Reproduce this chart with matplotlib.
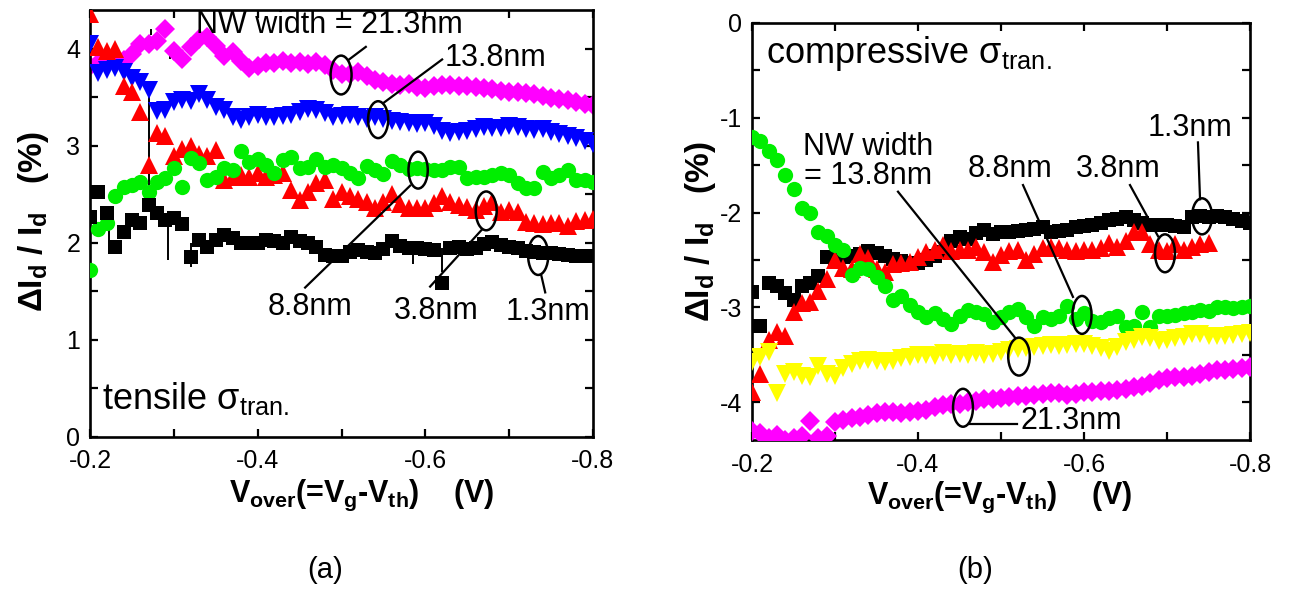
import numpy as np
import matplotlib
matplotlib.use("Agg")
import matplotlib.pyplot as plt
from matplotlib.patches import Ellipse
from matplotlib.ticker import MultipleLocator, FuncFormatter

plt.rcParams['font.family'] = ['Liberation Sans', 'DejaVu Sans']
plt.rcParams['mathtext.fontset'] = 'custom'
plt.rcParams['mathtext.rm'] = 'Liberation Sans:bold'
plt.rcParams['mathtext.it'] = 'Liberation Sans:bold'
plt.rcParams['mathtext.bf'] = 'Liberation Sans:bold'
plt.rcParams['mathtext.sf'] = 'Liberation Sans'

# gate overdrive grid (V)
v_over = np.round(np.arange(-0.20, -0.805, -0.01), 2)

# ---- (a) tensile stress, dId/Id (%) ----
tens_213 = [3.82, 3.85, 3.88, 3.90, 3.88, 3.95, 4.05, 4.05, 4.08, 4.20,
            3.98, 3.90, 4.02, 4.10, 4.12, 4.03, 3.93, 3.97, 3.87, 3.80,
            3.82, 3.85, 3.85, 3.87, 3.85, 3.86, 3.84, 3.86, 3.83, 3.78,
            3.74, 3.74, 3.76, 3.72, 3.68, 3.66, 3.64, 3.63, 3.64, 3.61,
            3.60, 3.62, 3.63, 3.63, 3.62, 3.62, 3.61, 3.60, 3.59, 3.57,
            3.56, 3.55, 3.54, 3.53, 3.51, 3.49, 3.48, 3.47, 3.45, 3.43, 3.42]
tens_138 = [4.05, 3.75, 3.78, 3.80, 3.76, 3.70, 3.66, 3.58, 3.36, 3.37,
            3.45, 3.47, 3.46, 3.53, 3.47, 3.40, 3.37, 3.30, 3.27, 3.30,
            3.32, 3.30, 3.30, 3.31, 3.32, 3.35, 3.38, 3.37, 3.34, 3.30,
            3.31, 3.32, 3.30, 3.28, 3.30, 3.28, 3.26, 3.25, 3.24, 3.23,
            3.24, 3.20, 3.15, 3.13, 3.14, 3.15, 3.17, 3.19, 3.18, 3.18,
            3.20, 3.19, 3.17, 3.16, 3.17, 3.14, 3.12, 3.10, 3.08, 3.05, 3.02]
tens_38 = [4.36, 4.02, 3.98, 4.00, 3.62, 3.56, 3.35, 2.80, 3.13, 3.10,
           2.90, 2.97, 3.00, 2.92, 2.90, 2.96, 2.65, 2.68, 2.70, 2.68,
           2.72, 2.68, 2.70, 2.72, 2.55, 2.44, 2.52, 2.62, 2.65, 2.45,
           2.52, 2.48, 2.45, 2.42, 2.36, 2.42, 2.50, 2.40, 2.36, 2.36,
           2.36, 2.41, 2.48, 2.42, 2.39, 2.37, 2.34, 2.38, 2.42, 2.32,
           2.34, 2.32, 2.22, 2.20, 2.19, 2.21, 2.20, 2.17, 2.23, 2.24, 2.25]
tens_88 = [1.72, 2.14, 2.20, 2.48, 2.58, 2.60, 2.63, 2.52, 2.63, 2.67,
           2.77, 2.58, 2.88, 2.82, 2.65, 2.68, 2.77, 2.75, 2.95, 2.83,
           2.86, 2.80, 2.72, 2.85, 2.89, 2.77, 2.78, 2.86, 2.78, 2.80,
           2.77, 2.72, 2.67, 2.79, 2.75, 2.71, 2.84, 2.80, 2.76, 2.77,
           2.76, 2.75, 2.75, 2.78, 2.78, 2.67, 2.68, 2.68, 2.70, 2.72,
           2.70, 2.62, 2.57, 2.57, 2.73, 2.67, 2.70, 2.75, 2.65, 2.65, 2.63]
tens_13 = [2.27, 2.52, 2.31, 1.96, 2.11, 2.24, 2.20, 2.39, 2.31, 2.24,
           2.26, 2.19, 1.85, 2.03, 1.96, 2.03, 2.08, 2.05, 2.00, 2.00,
           2.00, 2.03, 2.02, 2.00, 2.06, 2.02, 2.00, 1.96, 1.88, 1.86,
           1.87, 1.91, 1.93, 1.91, 1.90, 1.94, 2.02, 1.97, 1.95, 1.95,
           1.94, 1.93, 1.59, 1.95, 1.96, 1.94, 1.95, 1.99, 2.01, 1.98,
           1.96, 1.95, 1.92, 1.91, 1.90, 1.90, 1.89, 1.88, 1.87, 1.86, 1.86]
# thin glitch spikes of the raw 1.3nm trace: x, top, bottom
spike_x = [-0.270, -0.293, -0.320, -0.223, -0.585, -0.620, -0.273, -0.295, -0.309]
spike_top = [3.65, 2.27, 2.00, 2.31, 1.98, 1.95, 4.20, 3.96, 3.99]
spike_bot = [2.41, 1.82, 1.75, 2.03, 1.78, 1.70, 4.14, 3.90, 3.92]

# ---- (b) compressive stress, dId/Id (%) ----
comp_213 = [-4.30, -4.33, -4.38, -4.35, -4.40, -4.38, -4.36, -4.20, -4.38, -4.36,
            -4.21, -4.19, -4.17, -4.16, -4.14, -4.12, -4.10, -4.10, -4.12, -4.10,
            -4.09, -4.08, -4.05, -4.03, -4.02, -4.02, -4.00, -3.99, -3.97, -3.97,
            -3.96, -3.95, -3.94, -3.94, -3.93, -3.91, -3.90, -3.90, -3.92, -3.91,
            -3.89, -3.89, -3.88, -3.88, -3.87, -3.86, -3.84, -3.83, -3.80, -3.77,
            -3.75, -3.74, -3.73, -3.72, -3.70, -3.68, -3.66, -3.66, -3.65, -3.64, -3.63]
comp_138 = [-3.58, -3.52, -3.47, -3.90, -3.70, -3.68, -3.72, -3.74, -3.62, -3.70,
            -3.72, -3.64, -3.60, -3.57, -3.56, -3.57, -3.58, -3.57, -3.54, -3.52,
            -3.50, -3.50, -3.51, -3.48, -3.50, -3.49, -3.50, -3.48, -3.50, -3.49,
            -3.47, -3.45, -3.44, -3.43, -3.42, -3.41, -3.40, -3.41, -3.40, -3.39,
            -3.39, -3.41, -3.43, -3.46, -3.42, -3.37, -3.35, -3.31, -3.32, -3.36,
            -3.34, -3.32, -3.31, -3.28, -3.28, -3.30, -3.30, -3.30, -3.29, -3.28, -3.27]
comp_88 = [-1.20, -1.24, -1.35, -1.45, -1.60, -1.75, -1.95, -2.00, -2.20, -2.25,
           -2.34, -2.40, -2.66, -2.58, -2.60, -2.68, -2.78, -2.92, -2.88, -2.98,
           -3.05, -3.10, -3.06, -3.12, -3.18, -3.09, -3.03, -3.05, -3.07, -3.16,
           -3.10, -3.05, -3.02, -3.10, -3.20, -3.10, -3.12, -3.09, -2.99, -3.12,
           -3.06, -3.14, -3.15, -3.11, -3.09, -3.21, -3.20, -3.05, -3.21, -3.09,
           -3.09, -3.08, -3.06, -3.05, -3.03, -3.04, -3.00, -3.00, -3.01, -3.00, -2.99]
comp_38 = [-3.89, -3.70, -3.35, -3.26, -3.30, -3.05, -2.95, -2.94, -2.83, -2.70,
           -2.50, -2.58, -2.60, -2.44, -2.48, -2.60, -2.63, -2.54, -2.53, -2.52,
           -2.47, -2.42, -2.39, -2.34, -2.41, -2.40, -2.39, -2.36, -2.42, -2.52,
           -2.45, -2.41, -2.39, -2.50, -2.44, -2.37, -2.36, -2.37, -2.39, -2.41,
           -2.40, -2.39, -2.37, -2.32, -2.36, -2.30, -2.20, -2.20, -2.33, -2.39,
           -2.41, -2.33, -2.40, -2.36, -2.33, -2.32, np.nan, np.nan, np.nan, np.nan, np.nan]
comp_13 = [-2.84, -3.20, -2.74, -2.78, -2.85, -2.92, -2.78, -2.74, -2.67, -2.47,
           -2.50, -2.47, -2.46, -2.44, -2.41, -2.43, -2.46, -2.49, -2.51, -2.53,
           -2.53, -2.50, -2.46, -2.42, -2.30, -2.26, -2.28, -2.22, -2.18, -2.23,
           -2.21, -2.20, -2.19, -2.18, -2.17, -2.15, -2.20, -2.19, -2.18, -2.15,
           -2.14, -2.13, -2.11, -2.08, -2.07, -2.05, -2.08, -2.11, -2.13, -2.13,
           -2.13, -2.14, -2.15, -2.05, -2.04, -2.05, -2.04, -2.05, -2.07, -2.09, -2.11]

MAG, BLUE, RED, GREEN, YEL, BLK = '#ff00ff', '#0000ff', '#ff0000', '#00ee00', '#ffff00', '#000000'

fig = plt.figure(figsize=(12.9, 5.92), dpi=100)
axa = fig.add_axes([90/1290, (592-437)/592, 503/1290, 427/592])
axb = fig.add_axes([752/1290, (592-440)/592, 498/1290, 417/592])

def style(ax):
    ax.set_xlim(-0.2, -0.8)
    ax.xaxis.set_major_locator(MultipleLocator(0.2))
    ax.xaxis.set_minor_locator(MultipleLocator(0.1))
    ax.yaxis.set_major_locator(MultipleLocator(1))
    ax.yaxis.set_minor_locator(MultipleLocator(0.5))
    ax.tick_params(which='both', direction='in', top=True, right=True,
                   width=1.6, length=6, labelsize=18)
    ax.tick_params(axis='x', pad=9)
    ax.tick_params(axis='y', pad=7)
    for s in ax.spines.values():
        s.set_linewidth(1.9)
    ax.xaxis.set_major_formatter(FuncFormatter(lambda v, p: f'{v:.1f}'))
    ax.yaxis.set_major_formatter(FuncFormatter(lambda v, p: f'{v:.0f}'))

kw = dict(linestyle='none', markeredgewidth=0)
MS_D, MS_T, MS_O, MS_S = 10.0, 12.5, 11.0, 9.5

# panel (a)
axa.vlines(spike_x, spike_bot, spike_top, color='black', lw=1.4, zorder=1)
axa.plot(v_over, tens_213, marker='D', ms=MS_D, color=MAG, **kw, zorder=2)
axa.plot(v_over, tens_138, marker='v', ms=MS_T, color=BLUE, **kw, zorder=3)
axa.plot(v_over, tens_38, marker='^', ms=MS_T, color=RED, **kw, zorder=4)
axa.plot(v_over, tens_88, marker='o', ms=MS_O, color=GREEN, **kw, zorder=5)
axa.plot(v_over, tens_13, marker='s', ms=MS_S, color=BLK, **kw, zorder=6)
axa.set_ylim(0, 4.4)
style(axa)

# panel (b)
axb.plot(v_over, comp_13, marker='s', ms=MS_S, color=BLK, **kw, zorder=2)
axb.plot(v_over, comp_38, marker='^', ms=MS_T, color=RED, **kw, zorder=3)
axb.plot(v_over, comp_88, marker='o', ms=MS_O, color=GREEN, **kw, zorder=4)
axb.plot(v_over, comp_138, marker='v', ms=MS_T, color=YEL, **kw, zorder=5)
axb.plot(v_over, comp_213, marker='D', ms=MS_D, color=MAG, **kw, zorder=6)
axb.set_ylim(-4.4, 0)
style(axb)

def ell(ax, x, y, w, h):
    ax.add_patch(Ellipse((x, y), w, h, fill=False, ec='black', lw=1.8, zorder=10, clip_on=False))

def seg(ax, x0, y0, x1, y1):
    ax.plot([x0, x1], [y0, y1], color='black', lw=1.6, zorder=10, clip_on=False)

TS = 22
# annotations (a)
axa.text(-0.3265, 4.25, 'NW width = 21.3nm', fontsize=TS, ha='left', va='center', zorder=11)
ell(axa, -0.4995, 3.73, 0.025, 0.40); seg(axa, -0.509, 3.89, -0.529, 4.02)
axa.text(-0.6236, 3.91, '13.8nm', fontsize=TS, ha='left', va='center', zorder=11)
ell(axa, -0.5437, 3.27, 0.024, 0.38); seg(axa, -0.5497, 3.44, -0.62, 3.89)
ell(axa, -0.5914, 2.75, 0.023, 0.38); seg(axa, -0.5819, 2.59, -0.4566, 1.54)
axa.text(-0.4625, 1.34, '8.8nm', fontsize=TS, ha='center', va='center', zorder=11)
ell(axa, -0.6726, 2.33, 0.025, 0.40); seg(axa, -0.6678, 2.14, -0.6057, 1.55)
axa.text(-0.6129, 1.30, '3.8nm', fontsize=TS, ha='center', va='center', zorder=11)
ell(axa, -0.7346, 1.87, 0.024, 0.40); seg(axa, -0.7382, 1.67, -0.743, 1.49)
axa.text(-0.7465, 1.29, '1.3nm', fontsize=TS, ha='center', va='center', zorder=11)
axa.text(-0.2143, 0.40, r'tensile $\mathsf{\sigma_{tran.}}$', fontsize=26, ha='left', va='center', zorder=11)

# annotations (b)
axb.text(-0.2169, -0.32, r'compressive $\mathsf{\sigma_{tran.}}$', fontsize=26, ha='left', va='center', zorder=11)
axb.text(-0.3398, -1.46, 'NW width\n= 13.8nm', fontsize=TS, ha='center', va='center',
         linespacing=0.95, zorder=11)
seg(axb, -0.3759, -1.78, -0.5169, -3.32); ell(axb, -0.5217, -3.52, 0.026, 0.40)
axb.text(-0.5108, -1.54, '8.8nm', fontsize=TS, ha='center', va='center', zorder=11)
seg(axb, -0.5265, -1.71, -0.5867, -2.89); ell(axb, -0.5976, -3.08, 0.023, 0.40)
axb.text(-0.641, -1.54, '3.8nm', fontsize=TS, ha='center', va='center', zorder=11)
seg(axb, -0.6554, -1.71, -0.6892, -2.25); ell(axb, -0.6976, -2.43, 0.024, 0.40)
axb.text(-0.7277, -1.105, '1.3nm', fontsize=TS, ha='center', va='center', zorder=11)
seg(axb, -0.7373, -1.26, -0.7398, -1.86); ell(axb, -0.7422, -2.04, 0.024, 0.38)
axb.text(-0.5229, -4.20, '21.3nm', fontsize=TS, ha='left', va='center', zorder=11)
seg(axb, -0.4627, -4.23, -0.5193, -4.23); ell(axb, -0.4542, -4.06, 0.024, 0.40)

# axis labels
ylab = r'$\Delta I_d$ / $I_d$   (%)'
xlab = r'$V_{over}$(=$V_g$-$V_{th}$)    (V)'
fig.text(34/1290, 1 - 222/592, ylab, rotation=90, fontsize=24, fontweight='bold', ha='center', va='center')
fig.text(700/1290, 1 - 232/592, ylab, rotation=90, fontsize=24, fontweight='bold', ha='center', va='center')
fig.text(362/1290, 1 - 495/592, xlab, fontsize=22, fontweight='bold', ha='center', va='center')
fig.text(1000/1290, 1 - 497/592, xlab, fontsize=22, fontweight='bold', ha='center', va='center')
fig.text(325/1290, 1 - 570/592, '(a)', fontsize=21, ha='center', va='center')
fig.text(975/1290, 1 - 570/592, '(b)', fontsize=21, ha='center', va='center')

fig.savefig('out.png', dpi=100)
